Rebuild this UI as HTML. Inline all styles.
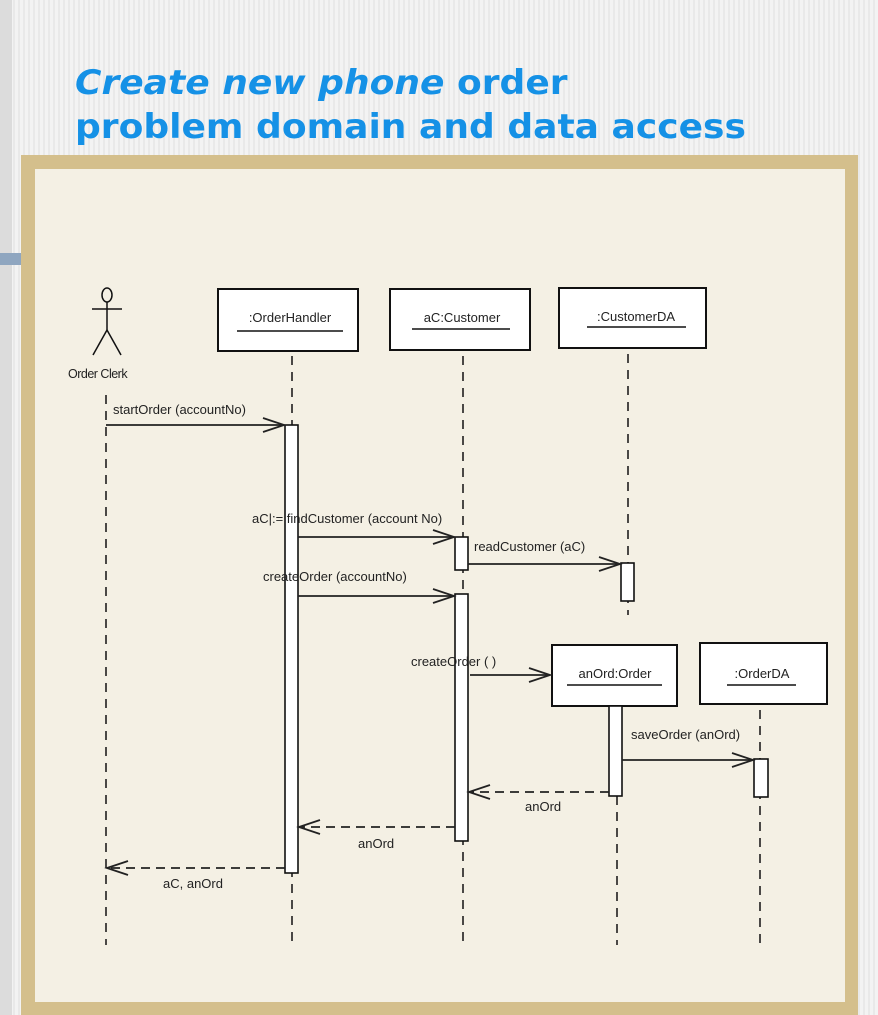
<!DOCTYPE html>
<html><head><meta charset="utf-8"><style>
html,body{margin:0;padding:0;}
body{width:878px;height:1015px;position:relative;overflow:hidden;
background:repeating-linear-gradient(90deg,#f3f3f3 0 3px,#e9e9e9 3px 5px);}
.ls{position:absolute;left:0;top:0;width:12px;height:1015px;background:#dcdcdc;}
.bb{position:absolute;left:0;top:253px;width:21px;height:12px;background:#8fa6c0;}
.t{position:absolute;left:75px;font-family:"DejaVu Sans",sans-serif;font-weight:bold;color:#1591e6;font-size:34px;white-space:nowrap;transform-origin:0 0;transform:scaleX(1.06);}
.frame{position:absolute;left:21px;top:155px;width:837px;height:860px;background:#d4bf8c;}
.inner{position:absolute;left:35px;top:169px;width:810px;height:833px;background:#f4f0e4;}
svg{position:absolute;left:0;top:0;}
text{font-family:"Liberation Sans",sans-serif;font-size:13px;fill:#222;}
</style></head><body>
<div class="ls"></div><div class="bb"></div>
<div class="t" style="top:63px"><i>Create new phone</i> order</div>
<div class="t" style="top:107px">problem domain and data access</div>
<div class="frame"></div><div class="inner"></div>
<svg width="878" height="1015" viewBox="0 0 878 1015">
<g stroke="#111" stroke-width="1.5" stroke-dasharray="9,7" fill="none">
<line x1="106" y1="395" x2="106" y2="945"/>
<line x1="292" y1="356" x2="292" y2="945"/>
<line x1="463" y1="356" x2="463" y2="945"/>
<line x1="628" y1="354" x2="628" y2="615"/>
<line x1="617" y1="796" x2="617" y2="945"/>
<line x1="760" y1="710" x2="760" y2="945"/>
</g>
<g stroke="#111" stroke-width="1.5" fill="none">
<ellipse cx="107" cy="295" rx="5" ry="7"/>
<line x1="107" y1="302" x2="107" y2="330"/>
<line x1="92" y1="309" x2="122" y2="309"/>
<line x1="107" y1="330" x2="93" y2="355"/>
<line x1="107" y1="330" x2="121" y2="355"/>
</g>
<text x="68" y="378" style="font-size:12.5px;letter-spacing:-0.5px">Order Clerk</text>
<g stroke="#111" stroke-width="2" fill="#fff">
<rect x="218" y="289" width="140" height="62"/>
<rect x="390" y="289" width="140" height="61"/>
<rect x="559" y="288" width="147" height="60"/>
<rect x="552" y="645" width="125" height="61"/>
<rect x="700" y="643" width="127" height="61"/>
</g>
<g text-anchor="middle">
<text x="290" y="322">:OrderHandler</text>
<text x="462" y="322">aC:Customer</text>
<text x="636" y="321">:CustomerDA</text>
<text x="615" y="678">anOrd:Order</text>
<text x="762" y="678">:OrderDA</text>
</g>
<g stroke="#111" stroke-width="1.5">
<line x1="237" y1="331" x2="343" y2="331"/>
<line x1="412" y1="329" x2="510" y2="329"/>
<line x1="587" y1="327" x2="686" y2="327"/>
<line x1="567" y1="685" x2="662" y2="685"/>
<line x1="727" y1="685" x2="796" y2="685"/>
</g>
<g stroke="#111" stroke-width="1.6" fill="#fff">
<rect x="285" y="425" width="13" height="448"/>
<rect x="455" y="537" width="13" height="33"/>
<rect x="455" y="594" width="13" height="247"/>
<rect x="621" y="563" width="13" height="38"/>
<rect x="609" y="706" width="13" height="90"/>
<rect x="754" y="759" width="14" height="38"/>
</g>
<g stroke="#222" stroke-width="1.8" fill="none">
<line x1="106" y1="425" x2="284" y2="425"/><polyline points="263,418 284,425 263,432"/>
<line x1="298" y1="537" x2="454" y2="537"/><polyline points="433,530 454,537 433,544"/>
<line x1="468" y1="564" x2="620" y2="564"/><polyline points="599,557 620,564 599,571"/>
<line x1="298" y1="596" x2="454" y2="596"/><polyline points="433,589 454,596 433,603"/>
<line x1="470" y1="675" x2="550" y2="675"/><polyline points="529,668 550,675 529,682"/>
<line x1="622" y1="760" x2="753" y2="760"/><polyline points="732,753 753,760 732,767"/>
<g stroke-dasharray="9,6"><line x1="609" y1="792" x2="470" y2="792"/>
<line x1="455" y1="827" x2="300" y2="827"/>
<line x1="285" y1="868" x2="108" y2="868"/></g>
<polyline points="490,785 469,792 490,799"/>
<polyline points="320,820 299,827 320,834"/>
<polyline points="128,861 107,868 128,875"/>
</g>
<text x="113" y="414">startOrder (accountNo)</text>
<text x="252" y="523">aC|:= findCustomer (account No)</text>
<text x="474" y="551">readCustomer (aC)</text>
<text x="263" y="581">createOrder (accountNo)</text>
<text x="411" y="666">createOrder ( )</text>
<text x="631" y="739">saveOrder (anOrd)</text>
<text x="525" y="811">anOrd</text>
<text x="358" y="848">anOrd</text>
<text x="163" y="888">aC, anOrd</text>
</svg>
</body></html>
